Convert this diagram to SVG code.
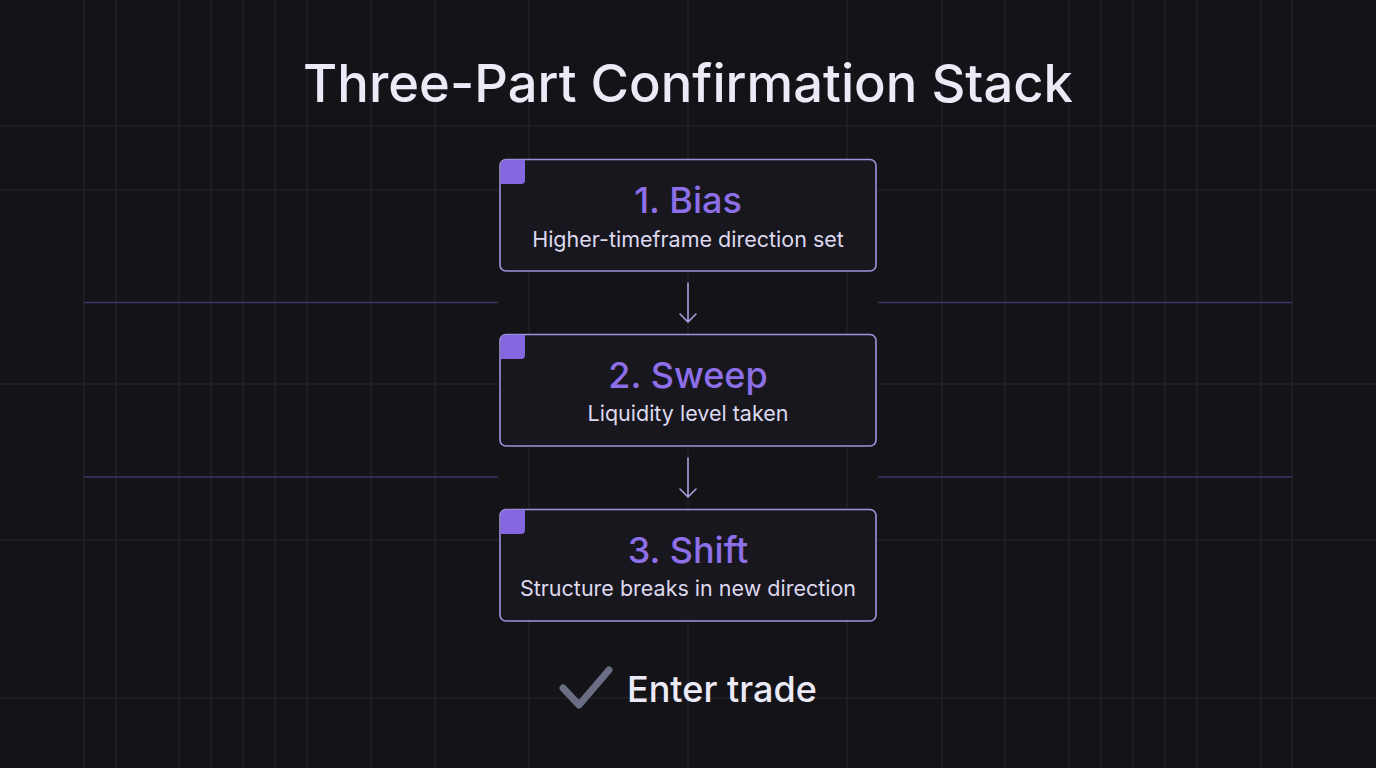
<svg xmlns="http://www.w3.org/2000/svg" width="1376" height="768" viewBox="0 0 1376 768">
<defs>
<style>
.grid line{stroke:#22222a;stroke-width:1.5}
.accent line{stroke:#3b3662;stroke-width:1.5}
.box{fill:#18171e;stroke:#a093dc;stroke-width:1.6}
.tab{fill:#8466e0}
.step{font-family:Inter,"Noto Sans",sans-serif;font-size:36px;font-weight:500;fill:#8d6fe8;text-anchor:middle}
.sub{font-family:Inter,"Noto Sans",sans-serif;font-size:21.5px;fill:#ddd9ef;text-anchor:middle}
.conn{stroke:#aa9fe0;stroke-width:1.6;fill:none;stroke-linecap:round;stroke-linejoin:round}
</style>
</defs>
<rect width="1376" height="768" fill="#131318"/>
<g class="grid">
<line x1="84" y1="0" x2="84" y2="768"/>
<line x1="116" y1="0" x2="116" y2="768"/>
<line x1="179" y1="0" x2="179" y2="768"/>
<line x1="211" y1="0" x2="211" y2="768"/>
<line x1="243" y1="0" x2="243" y2="768"/>
<line x1="275" y1="0" x2="275" y2="768"/>
<line x1="307" y1="0" x2="307" y2="768"/>
<line x1="371" y1="0" x2="371" y2="768"/>
<line x1="435" y1="0" x2="435" y2="768"/>
<line x1="529" y1="0" x2="529" y2="768"/>
<line x1="688" y1="0" x2="688" y2="768"/>
<line x1="847" y1="0" x2="847" y2="768"/>
<line x1="942" y1="0" x2="942" y2="768"/>
<line x1="1005" y1="0" x2="1005" y2="768"/>
<line x1="1069" y1="0" x2="1069" y2="768"/>
<line x1="1101" y1="0" x2="1101" y2="768"/>
<line x1="1133" y1="0" x2="1133" y2="768"/>
<line x1="1165" y1="0" x2="1165" y2="768"/>
<line x1="1197" y1="0" x2="1197" y2="768"/>
<line x1="1261" y1="0" x2="1261" y2="768"/>
<line x1="1292" y1="0" x2="1292" y2="768"/>
<line x1="0" y1="126" x2="1376" y2="126"/>
<line x1="0" y1="190" x2="1376" y2="190"/>
<line x1="0" y1="384" x2="1376" y2="384"/>
<line x1="0" y1="540" x2="1376" y2="540"/>
<line x1="0" y1="698" x2="1376" y2="698"/>
</g>
<g class="accent">
<line x1="84" y1="302.5" x2="498" y2="302.5"/>
<line x1="878" y1="302.5" x2="1292" y2="302.5"/>
<line x1="84" y1="477" x2="498" y2="477"/>
<line x1="878" y1="477" x2="1292" y2="477"/>
</g>
<text x="688" y="102" font-family="Inter,'Noto Sans',sans-serif" font-size="52.5" font-weight="500" fill="#eceaf6" text-anchor="middle">Three-Part Confirmation Stack</text>
<g id="connectors">
<path class="conn" d="M688 283 V322 M680 314 L688 322 L696 314"/>
<path class="conn" d="M688 458 V497 M680 489 L688 497 L696 489"/>
</g>
<g id="node-bias">
<rect class="box" x="500" y="159.5" width="376" height="111.5" rx="6"/>
<path class="tab" d="M500.8 165 a5.2 5.2 0 0 1 5.2 -5.2 H525 V180 a4 4 0 0 1 -4 4 H500.8 Z"/>
<text class="step" x="688" y="213">1. Bias</text>
<text class="sub" x="688" y="247">Higher-timeframe direction set</text>
</g>
<g id="node-sweep">
<rect class="box" x="500" y="334.5" width="376" height="111.5" rx="6"/>
<path class="tab" d="M500.8 340 a5.2 5.2 0 0 1 5.2 -5.2 H525 V355 a4 4 0 0 1 -4 4 H500.8 Z"/>
<text class="step" x="688" y="388">2. Sweep</text>
<text class="sub" x="688" y="421">Liquidity level taken</text>
</g>
<g id="node-shift">
<rect class="box" x="500" y="509.5" width="376" height="111.5" rx="6"/>
<path class="tab" d="M500.8 515 a5.2 5.2 0 0 1 5.2 -5.2 H525 V530 a4 4 0 0 1 -4 4 H500.8 Z"/>
<text class="step" x="688" y="563">3. Shift</text>
<text class="sub" x="688" y="596">Structure breaks in new direction</text>
</g>
<g id="result">
<path d="M563 688 L579 705 L609 670" fill="none" stroke="#6a6e84" stroke-width="7" stroke-linecap="round" stroke-linejoin="round"/>
<text x="627" y="702" font-family="Inter,'Noto Sans',sans-serif" font-size="36" font-weight="500" fill="#eceaf6">Enter trade</text>
</g>
</svg>
